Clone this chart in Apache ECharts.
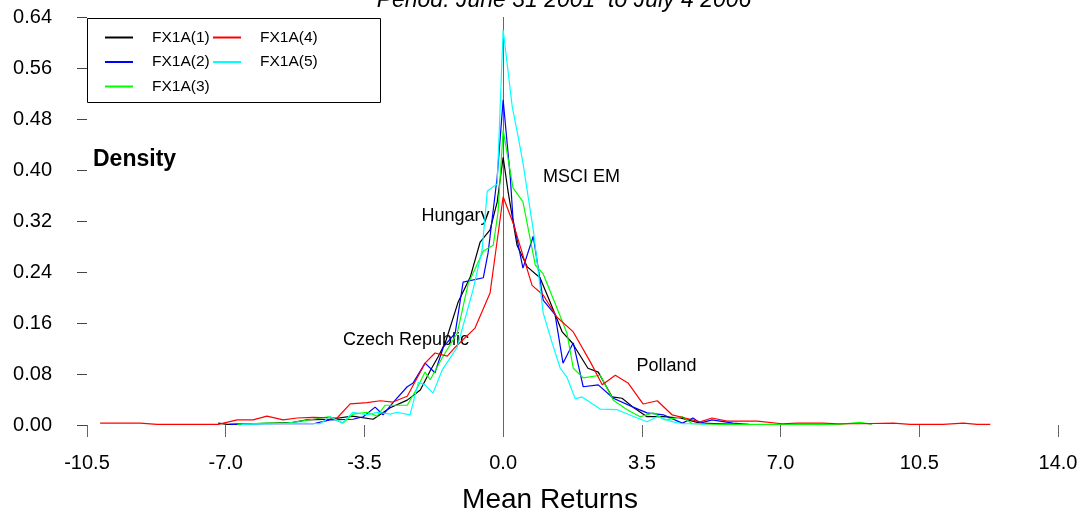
<!DOCTYPE html>
<html>
<head>
<meta charset="utf-8">
<script src="https://cdn.jsdelivr.net/npm/echarts@6/dist/echarts.min.js"></script>
<style>
html,body{margin:0;padding:0;background:#fff;}
#chart{width:1087px;height:522px;}
</style>
</head>
<body>
<div id="chart"></div>
<script>
// ---- data (x = mean return, y = density) ----
const seriesNames = ['FX1A(1)', 'FX1A(2)', 'FX1A(3)', 'FX1A(4)', 'FX1A(5)'];
const xTickLabels = ['-10.5', '-7.0', '-3.5', '0.0', '3.5', '7.0', '10.5', '14.0'];
const yTickLabels = ['0.00', '0.08', '0.16', '0.24', '0.32', '0.40', '0.48', '0.56', '0.64'];

const fx1 = [[-7.19,0.003],[-6.96,0.001],[-6.4,0.002],[-5.8,0.003],[-5.3,0.004],[-4.95,0.008],[-4.37,0.009],[-3.81,0.014],[-3.28,0.009],[-2.85,0.027],[-2.42,0.039],[-2.09,0.055],[-1.84,0.085],[-1.64,0.107],[-1.46,0.129],[-1.14,0.192],[-0.83,0.232],[-0.58,0.287],[-0.33,0.306],[-0.15,0.35],[0,0.42],[0.13,0.364],[0.35,0.282],[0.61,0.248],[0.93,0.231],[1.19,0.192],[1.49,0.146],[1.74,0.129],[2.14,0.089],[2.40,0.083],[2.75,0.044],[3.00,0.042],[3.28,0.028],[3.63,0.013],[4.04,0.013],[4.47,0.011],[4.97,0.003],[5.5,0.002],[6.0,0.001]];

const fx2 = [[-6.9,0.001],[-6.0,0.002],[-5.3,0.002],[-4.79,0.002],[-4.37,0.008],[-3.79,0.009],[-3.53,0.013],[-3.23,0.028],[-3.03,0.016],[-2.78,0.035],[-2.42,0.060],[-2.27,0.066],[-1.97,0.097],[-1.72,0.082],[-1.51,0.122],[-1.21,0.144],[-1.01,0.224],[-0.50,0.231],[-0.38,0.270],[-0.15,0.389],[0,0.51],[0.18,0.389],[0.25,0.322],[0.50,0.246],[0.76,0.296],[1.01,0.196],[1.31,0.173],[1.51,0.097],[1.77,0.129],[2.02,0.060],[2.40,0.063],[2.78,0.042],[3.28,0.028],[3.63,0.019],[4.04,0.016],[4.52,0.003],[4.79,0.011],[4.97,0.003],[5.27,0.008],[5.80,0.003],[6.2,0.001]];

const fx3 = [[-6.7,0.001],[-6.0,0.003],[-5.45,0.003],[-4.79,0.009],[-4.37,0.013],[-4.04,0.003],[-3.79,0.017],[-3.43,0.020],[-3.18,0.014],[-2.98,0.031],[-2.42,0.031],[-2.17,0.058],[-1.97,0.083],[-1.84,0.071],[-1.54,0.105],[-1.16,0.144],[-0.88,0.222],[-0.50,0.273],[-0.25,0.282],[-0.13,0.333],[0,0.463],[0.25,0.372],[0.50,0.350],[0.81,0.251],[1.01,0.237],[1.31,0.191],[1.61,0.144],[1.77,0.089],[2.02,0.074],[2.45,0.078],[2.78,0.039],[3.13,0.024],[3.46,0.013],[3.79,0.019],[4.09,0.008],[4.52,0.013],[4.77,0.002],[5.5,0.001],[6.5,0.001],[7.5,0.001],[8.5,0.001],[9.0,0.004],[9.3,0.001]];

const fx4 = [[-10.17,0.003],[-9.16,0.003],[-8.73,0.001],[-7.19,0.001],[-6.71,0.008],[-6.31,0.008],[-5.96,0.014],[-5.55,0.008],[-5.20,0.011],[-4.79,0.012],[-4.19,0.011],[-3.86,0.033],[-3.43,0.035],[-3.10,0.038],[-2.78,0.036],[-2.42,0.045],[-1.97,0.097],[-1.72,0.113],[-1.41,0.108],[-1.21,0.122],[-0.71,0.152],[-0.33,0.207],[0,0.358],[0.25,0.317],[0.73,0.219],[1.01,0.204],[1.36,0.169],[1.77,0.146],[2.20,0.099],[2.50,0.063],[2.83,0.078],[3.15,0.066],[3.53,0.033],[3.89,0.038],[4.26,0.016],[4.59,0.011],[4.97,0.005],[5.27,0.011],[5.65,0.006],[6.41,0.006],[7.04,0.002],[7.42,0.003],[8.07,0.003],[8.43,0.002],[9.01,0.002],[9.84,0.003],[10.27,0.001],[11.10,0.001],[11.61,0.003],[11.96,0.001],[12.29,0.001]];

const fx5 = [[-6.6,0.001],[-5.9,0.002],[-5.20,0.003],[-4.62,0.002],[-4.37,0.013],[-4.06,0.003],[-3.79,0.020],[-3.43,0.016],[-3.18,0.020],[-2.85,0.017],[-2.67,0.020],[-2.35,0.016],[-2.14,0.067],[-1.97,0.063],[-1.77,0.050],[-1.54,0.086],[-1.16,0.122],[-0.76,0.212],[-0.53,0.275],[-0.40,0.367],[-0.15,0.378],[0,0.62],[0.23,0.499],[0.38,0.452],[0.50,0.411],[0.76,0.306],[1.01,0.176],[1.24,0.128],[1.44,0.089],[1.61,0.075],[1.82,0.041],[1.99,0.044],[2.45,0.025],[2.88,0.024],[3.38,0.011],[3.63,0.005],[3.89,0.013],[4.29,0.005],[4.54,0.002],[4.97,0.002],[5.1,0.001]];

const seriesData = [fx1, fx2, fx3, fx4, fx5];
const seriesColors = ['#000000', '#0000ff', '#00ff00', '#ff0000', '#00ffff'];

const FONT = 'Liberation Sans, Arial, Helvetica, sans-serif';

const chart = echarts.init(document.getElementById('chart'), null, {renderer: 'canvas'});

const series = seriesNames.map((name, i) => ({
  name: name,
  type: 'line',
  data: seriesData[i],
  symbol: 'none',
  showSymbol: false,
  animation: false,
  color: seriesColors[i],
  itemStyle: {color: seriesColors[i]},
  lineStyle: {color: seriesColors[i], width: 1.2},
  z: 3 + i
}));

series[0].markLine = {
  silent: true,
  symbol: 'none',
  label: {show: false},
  lineStyle: {color: '#666', width: 1, type: 'solid'},
  data: [[{coord: [0, 0]}, {coord: [0, 0.64]}]],
  animation: false,
  z: 1
};

const legendCommon = {
  orient: 'vertical',
  top: 29.5,
  padding: 0,
  itemWidth: 28,
  itemHeight: 2,
  itemGap: 8.5,
  icon: 'rect',
  selectedMode: false,
  textStyle: {fontSize: 15.5, fontFamily: FONT, color: '#000', padding: [0, 0, 0, 14]}
};

const option = {
  backgroundColor: '#fff',
  animation: false,
  grid: {left: 87, right: 29, top: 17, bottom: 97, containLabel: false},
  legend: [
    Object.assign({}, legendCommon, {left: 105, data: seriesNames.slice(0, 3)}),
    Object.assign({}, legendCommon, {left: 213, data: seriesNames.slice(3, 5)})
  ],
  xAxis: {
    type: 'value',
    min: -10.5, max: 14, interval: 3.5,
    axisLine: {show: false, onZero: true},
    axisTick: {show: true, length: 12, lineStyle: {color: '#666', width: 1}},
    splitLine: {show: false},
    axisLabel: {
      fontSize: 20, fontFamily: FONT, color: '#000', margin: 28,
      formatter: (v) => { const k = Math.round((v + 10.5) / 3.5); return xTickLabels[k] !== undefined ? xTickLabels[k] : v.toFixed(1); }
    }
  },
  yAxis: {
    type: 'value',
    min: 0, max: 0.64, interval: 0.08,
    axisLine: {show: false, onZero: false},
    axisTick: {show: true, length: 10, lineStyle: {color: '#444', width: 1}},
    splitLine: {show: false},
    axisLabel: {
      fontSize: 20, fontFamily: FONT, color: '#000', margin: 35,
      formatter: (v) => { const k = Math.round(v / 0.08); return yTickLabels[k] !== undefined ? yTickLabels[k] : v.toFixed(2); }
    }
  },
  graphic: [
    {type: 'rect', silent: true, z: 10, shape: {x: 87.5, y: 18.5, width: 293, height: 84}, style: {fill: 'none', stroke: '#000', lineWidth: 1}},
    {type: 'text', silent: true, x: 564, y: 1, style: {text: 'Period: June 31 2001  to July 4 2006', fontSize: 23, fontStyle: 'italic', fontFamily: FONT, fill: '#000', align: 'center', verticalAlign: 'middle'}},
    {type: 'text', silent: true, x: 93, y: 160, style: {text: 'Density', fontSize: 23, fontWeight: 'bold', fontFamily: FONT, fill: '#000', align: 'left', verticalAlign: 'middle'}},
    {type: 'text', silent: true, x: 543, y: 177, style: {text: 'MSCI EM', fontSize: 18, fontFamily: FONT, fill: '#000', align: 'left', verticalAlign: 'middle'}},
    {type: 'text', silent: true, x: 421.5, y: 216, style: {text: 'Hungary', fontSize: 18, fontFamily: FONT, fill: '#000', align: 'left', verticalAlign: 'middle'}},
    {type: 'text', silent: true, x: 343, y: 340, style: {text: 'Czech Republic', fontSize: 18, fontFamily: FONT, fill: '#000', align: 'left', verticalAlign: 'middle'}},
    {type: 'text', silent: true, x: 636.5, y: 366, style: {text: 'Polland', fontSize: 18, fontFamily: FONT, fill: '#000', align: 'left', verticalAlign: 'middle'}},
    {type: 'text', silent: true, x: 550, y: 500, style: {text: 'Mean Returns', fontSize: 28, fontFamily: FONT, fill: '#000', align: 'center', verticalAlign: 'middle'}}
  ],
  series: series
};

chart.setOption(option);
</script>
</body>
</html>
